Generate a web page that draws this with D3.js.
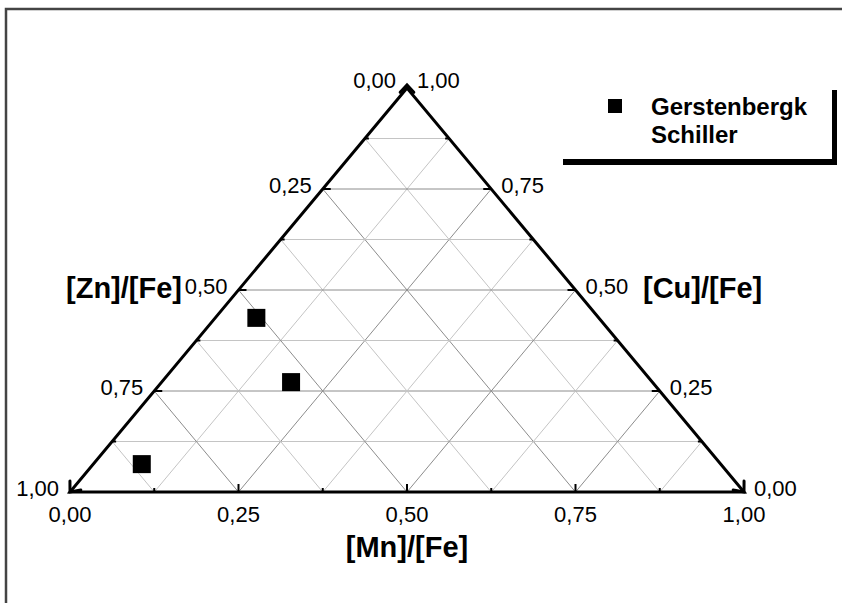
<!DOCTYPE html>
<html lang="en">
<head>
  <meta charset="UTF-8">
  <title>Ternary [Mn]/[Fe] [Zn]/[Fe] [Cu]/[Fe]</title>
  <style>
    body{ margin: 0; background: #fff; }
    svg{ display: block; font-family: "Liberation Sans", Arial, sans-serif; }
    .edge{ fill: none; stroke: #000; stroke-width: 3px; stroke-linecap: round; }
    .tick{ stroke: #000; stroke-width: 2px; }
    .grid-major{ stroke: #8c8c8c; stroke-width: 1px; }
    .grid-minor{ stroke: #c4c4c4; stroke-width: 1px; }
    .ticklabel{ font-size: 22px; fill: #000; }
    .title{ font-size: 29px; font-weight: bold; fill: #000; }
    .legend{ font-size: 24px; font-weight: bold; fill: #000; }
  </style>
</head>
<body>
  <script src="https://cdn.jsdelivr.net/npm/d3@7"></script>
  <script>
    // data
    const seriesName = ['Gerstenbergk', 'Schiller'];
    const mnFe = [0.061, 0.192, 0.072];
    const cuFe = [0.431, 0.272, 0.069];
    const znFe = [0.508, 0.536, 0.859];
    const tickValues = [0, 0.25, 0.5, 0.75, 1];
    const tickLabels = ['0,00', '0,25', '0,50', '0,75', '1,00'];
    const minorValues = [0.125, 0.375, 0.625, 0.875];

    const width = 842, height = 603;
    const x = d3.scaleLinear().domain([0, 1]).range([70, 744]);
    const y = d3.scaleLinear().domain([0, 1]).range([492, 88]);
    // ternary -> screen (Zn = 1 - Mn - Cu)
    const pt = (mn, cu) => [x(mn + cu / 2), y(cu)];

    const svg = d3.select('body').append('svg')
      .attr('width', width).attr('height', height);

    // page frame
    svg.append('rect')
      .attr('x', 6).attr('y', 9).attr('width', 860).attr('height', 620)
      .attr('fill', 'none').attr('stroke', '#444').attr('stroke-width', 2.5);

    // grid
    const gridSteps = d3.range(1, 8).map(i => i / 8);
    const grid = svg.append('g');
    gridSteps.forEach((t, i) => {
      const cls = i % 2 === 1 ? 'grid-major' : 'grid-minor';
      const segs = [
        [pt(0, t), pt(1 - t, t)],          // const Cu
        [pt(t, 0), pt(t, 1 - t)],          // const Mn
        [pt(1 - t, 0), pt(0, 1 - t)]       // const Zn
      ];
      segs.forEach(s => {
        grid.append('line').attr('class', cls)
          .attr('x1', s[0][0]).attr('y1', s[0][1])
          .attr('x2', s[1][0]).attr('y2', s[1][1]);
      });
    });

    // ticks
    const ticks = svg.append('g');
    function drawTicks(vals, len) {
      vals.forEach(v => {
        const b = pt(v, 0);        // bottom (Mn)
        ticks.append('line').attr('class', 'tick')
          .attr('x1', b[0]).attr('y1', b[1]).attr('x2', b[0]).attr('y2', b[1] - len);
        const l = pt(0, 1 - v);    // left (Zn)
        ticks.append('line').attr('class', 'tick')
          .attr('x1', l[0]).attr('y1', l[1]).attr('x2', l[0] + len).attr('y2', l[1]);
        const r = pt(1 - v, v);    // right (Cu)
        ticks.append('line').attr('class', 'tick')
          .attr('x1', r[0]).attr('y1', r[1]).attr('x2', r[0] - len).attr('y2', r[1]);
      });
    }
    drawTicks(tickValues.slice(1, 4), 8);
    drawTicks(minorValues, 4);

    // triangle edges
    const A = pt(0, 1), BL = pt(0, 0), BR = pt(1, 0);
    svg.append('path').attr('class', 'edge')
      .attr('d', d3.line()([A, BL, BR, A]) + 'Z');

    // arrow heads at the vertices
    function arrow(tip, from, spread, len) {
      const ang = Math.atan2(from[1] - tip[1], from[0] - tip[0]);
      const p1 = [tip[0] + len * Math.cos(ang - spread), tip[1] + len * Math.sin(ang - spread)];
      const p2 = [tip[0] + len * Math.cos(ang + spread), tip[1] + len * Math.sin(ang + spread)];
      svg.append('path').attr('class', 'edge').attr('stroke-width', 3.5)
        .attr('d', d3.line()([p1, tip, p2]));
    }
    arrow(BL, A, 0.7, 11);
    arrow(BR, A, 0.7, 11);
    arrow([A[0], A[1] - 3], [A[0], A[1] + 10], 0.75, 10);

    // tick labels
    const labels = svg.append('g').attr('class', 'ticklabel');
    labels.selectAll('text.mn').data(tickValues).enter().append('text')
      .attr('class', 'mn').attr('text-anchor', 'middle')
      .attr('x', d => pt(d, 0)[0]).attr('y', d => pt(d, 0)[1] + 30)
      .text((d, i) => tickLabels[i]);
    labels.selectAll('text.zn').data(tickValues).enter().append('text')
      .attr('class', 'zn').attr('text-anchor', 'end')
      .attr('x', d => pt(0, 1 - d)[0] - 11)
      .attr('y', d => pt(0, 1 - d)[1] + (d === 0 ? 0 : 4))
      .text((d, i) => tickLabels[i]);
    labels.selectAll('text.cu').data(tickValues).enter().append('text')
      .attr('class', 'cu').attr('text-anchor', 'start')
      .attr('x', d => pt(1 - d, d)[0] + 10)
      .attr('y', d => pt(1 - d, d)[1] + (d === 1 ? 0 : 4))
      .text((d, i) => tickLabels[i]);

    // axis titles
    svg.append('text').attr('class', 'title').attr('text-anchor', 'middle')
      .attr('x', x(0.5)).attr('y', 557).text('[Mn]/[Fe]');
    svg.append('text').attr('class', 'title').attr('text-anchor', 'end')
      .attr('x', 182).attr('y', 298).text('[Zn]/[Fe]');
    svg.append('text').attr('class', 'title').attr('text-anchor', 'start')
      .attr('x', 643).attr('y', 298).text('[Cu]/[Fe]');

    // data points
    const size = 18;
    svg.selectAll('rect.dot').data(mnFe.map((m, i) => ({ mn: m, cu: cuFe[i], zn: znFe[i] })))
      .enter().append('rect')
      .attr('class', 'dot')
      .attr('x', d => pt(d.mn, d.cu)[0] - size / 2)
      .attr('y', d => pt(d.mn, d.cu)[1] - size / 2)
      .attr('width', size).attr('height', size)
      .attr('fill', '#000');

    // legend (only the shadow of its box shows)
    const lg = svg.append('g');
    lg.append('rect').attr('x', 832).attr('y', 90).attr('width', 5).attr('height', 75).attr('fill', '#000');
    lg.append('rect').attr('x', 563).attr('y', 159).attr('width', 274).attr('height', 6).attr('fill', '#000');
    lg.append('rect').attr('x', 608).attr('y', 99).attr('width', 14).attr('height', 14).attr('fill', '#000');
    lg.selectAll('text').data(seriesName).enter().append('text')
      .attr('class', 'legend')
      .attr('x', 651).attr('y', (d, i) => 115 + i * 27.5)
      .text(d => d);
  </script>
</body>
</html>
